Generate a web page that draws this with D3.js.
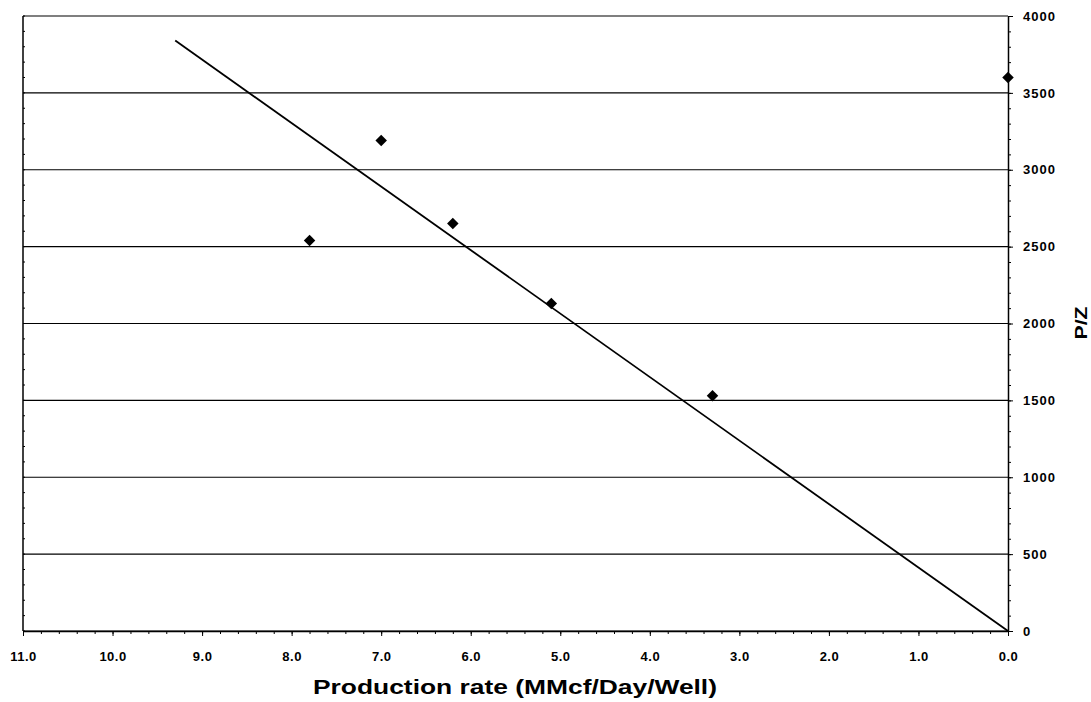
<!DOCTYPE html>
<html>
<head>
<meta charset="utf-8">
<script src="https://cdn.jsdelivr.net/npm/d3@7"></script>
<style>
  body { margin: 0; background: #fff; }
  svg { display: block; font-family: "Liberation Sans", Arial, sans-serif; }
</style>
</head>
<body>
<svg width="1091" height="702"></svg>
<script>
// measured points (production rate vs P/Z)
const rates = [7.8, 7.0, 6.2, 5.1, 3.3, 0.0]
const pz = [2540, 3190, 2650, 2130, 1530, 3600]

// straight trend line, drawn from its two ends
const lineRates = [9.3, 0.0]
const linePz = [3840, 0]

const xTicks = [11, 10, 9, 8, 7, 6, 5, 4, 3, 2, 1, 0]
const yTicks = [0, 500, 1000, 1500, 2000, 2500, 3000, 3500, 4000]

const svg = d3.select("svg")
const plotLeft = 23, plotRight = 1008, plotTop = 16, plotBottom = 631

const x = d3.scaleLinear().domain([11, 0]).range([plotLeft, plotRight])
const y = d3.scaleLinear().domain([0, 4000]).range([plotBottom, plotTop])

// grid lines
svg.append("g")
  .selectAll("line")
  .data(yTicks)
  .enter()
  .append("line")
  .attr("x1", plotLeft)
  .attr("x2", plotRight)
  .attr("y1", d => y(d))
  .attr("y2", d => y(d))
  .attr("stroke", "#000")
  .attr("stroke-width", 1.2)

// left border with small inner ticks
svg.append("line")
  .attr("x1", plotLeft).attr("x2", plotLeft)
  .attr("y1", plotTop).attr("y2", plotBottom)
  .attr("stroke", "#000").attr("stroke-width", 1.5)

svg.append("g")
  .selectAll("line")
  .data(d3.range(0, 4001, 100))
  .enter()
  .append("line")
  .attr("x1", plotLeft)
  .attr("x2", plotLeft + 2)
  .attr("y1", d => y(d))
  .attr("y2", d => y(d))
  .attr("stroke", "#000")

// bottom axis
const xMinor = svg.append("g")
  .attr("transform", `translate(0,${plotBottom})`)
  .call(d3.axisBottom(x).tickValues(d3.range(0, 11.01, 0.2)).tickSize(3).tickFormat(""))
xMinor.select(".domain").remove()

const xAxis = svg.append("g")
  .attr("transform", `translate(0,${plotBottom})`)
  .call(d3.axisBottom(x).tickValues(xTicks).tickSize(5).tickSizeOuter(0).tickPadding(16).tickFormat(d3.format(".1f")))
xAxis.select(".domain").attr("stroke-width", 1.5)
xAxis.selectAll("text")
  .style("font-size", "13px")
  .style("font-weight", "bold")
  .style("letter-spacing", "0.5px")
  .attr("fill", "#000")

// right axis
const yMinor = svg.append("g")
  .attr("transform", `translate(${plotRight},0)`)
  .call(d3.axisRight(y).tickValues(d3.range(0, 4001, 100)).tickSize(3).tickFormat(""))
yMinor.select(".domain").remove()

const yAxis = svg.append("g")
  .attr("transform", `translate(${plotRight},0)`)
  .call(d3.axisRight(y).tickValues(yTicks).tickSize(5).tickSizeOuter(0).tickPadding(10).tickFormat(d3.format("d")))
yAxis.select(".domain").attr("stroke-width", 1.5)
yAxis.selectAll("text")
  .style("font-size", "13px")
  .style("font-weight", "bold")
  .style("letter-spacing", "1px")
  .attr("fill", "#000")

// trend line
svg.append("path")
  .datum(d3.zip(lineRates, linePz))
  .attr("d", d3.line().x(d => x(d[0])).y(d => y(d[1])))
  .attr("fill", "none")
  .attr("stroke", "#000")
  .attr("stroke-width", 1.8)

// diamonds
svg.append("g")
  .selectAll("path")
  .data(d3.zip(rates, pz))
  .enter()
  .append("path")
  .attr("d", d3.symbol().type(d3.symbolSquare).size(66))
  .attr("transform", d => `translate(${x(d[0])},${y(d[1])}) rotate(45)`)
  .attr("fill", "#000")

// axis titles
svg.append("text")
  .attr("x", 515)
  .attr("y", 694)
  .attr("text-anchor", "middle")
  .attr("textLength", 404)
  .attr("lengthAdjust", "spacingAndGlyphs")
  .style("font-size", "21px")
  .style("font-weight", "bold")
  .text("Production rate (MMcf/Day/Well)")

svg.append("text")
  .attr("transform", "translate(1087,323) rotate(-90)")
  .attr("text-anchor", "middle")
  .attr("textLength", 33)
  .attr("lengthAdjust", "spacingAndGlyphs")
  .style("font-size", "17px")
  .style("font-weight", "bold")
  .text("P/Z")
</script>
</body>
</html>
